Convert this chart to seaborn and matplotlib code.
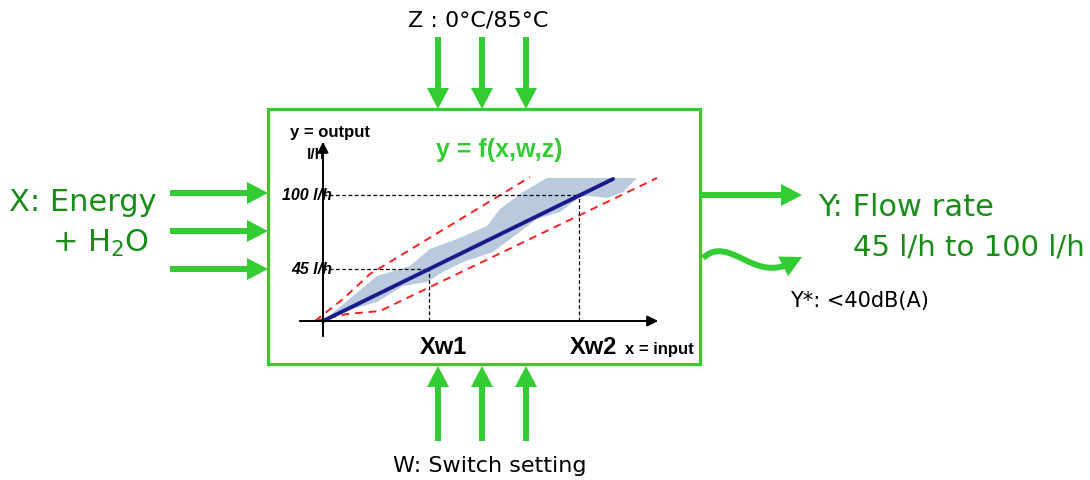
import numpy as np
import matplotlib
matplotlib.use("Agg")
import matplotlib.pyplot as plt
import seaborn as sns
from matplotlib.patches import Rectangle

# =========================================================
# DATA (schematic values, inner chart in its own units)
# =========================================================
line_x = [0, 290]
line_y = [0, 142]

band_upper_x = [0, 54, 87, 107, 134, 164, 177, 200, 224, 314]
band_upper_y = [0, 45, 55, 72, 82, 95, 112, 129, 143, 143]
band_lower_x = [314, 300, 284, 267, 257, 237, 214, 170, 140, 120, 104, 80, 54, 30, 0]
band_lower_y = [143, 129, 123, 125, 124, 109, 102, 69, 59, 49, 39, 35, 19, 12, 0]

red_upper_x = [-8, 20, 47, 207]
red_upper_y = [0, 22, 47, 144]
red_lower_x = [-8, 24, 57, 334]
red_lower_y = [0, 7, 10, 143]

xw_pos = [106, 256]
xw_labels = ["Xw1", "Xw2"]
yw_pos = [52, 126]
yw_labels = ["45 l/h", "100 l/h"]

GREEN = "#33cc33"
DARK_GREEN = "#1a8c1a"

# =========================================================
# FIGURE
# =========================================================
sns.set_theme(style="white")
plt.rcParams["font.family"] = ["DejaVu Sans"]
plt.rcParams["mathtext.default"] = "regular"
plt.rcParams["text.color"] = "black"

fig = plt.figure(figsize=(10.9, 4.81), dpi=100)
ax = fig.add_axes([0, 0, 1, 1])
ax.set_xlim(0, 1090)
ax.set_ylim(481, 0)
ax.axis("off")

# box
ax.add_patch(Rectangle((268, 110), 432, 255, fill=False, edgecolor=GREEN, lw=2.3))

arrow_kw = dict(width=6, head_width=22, head_length=21,
                length_includes_head=True, color=GREEN, lw=0)

# top arrows (Z)
for x in [438, 482, 526]:
    ax.arrow(x, 38, 0, 72, **arrow_kw)
# bottom arrows (W)
for x in [438, 482, 526]:
    ax.arrow(x, 442, 0, -75, **arrow_kw)
# left arrows (X)
for y in [194, 232, 270]:
    ax.arrow(170, y, 98, 0, **arrow_kw)
# right arrow (Y)
ax.arrow(702, 196, 100, 0, **arrow_kw)

# wavy arrow (Y*): cubic bezier shaft + head
p0, p1, p2, p3 = map(np.array, [(703, 259), (728, 236), (752, 280), (786, 266)])
t = np.linspace(0, 1, 60)[:, None]
curve = (1 - t) ** 3 * p0 + 3 * (1 - t) ** 2 * t * p1 + 3 * (1 - t) * t ** 2 * p2 + t ** 3 * p3
ax.plot(curve[:, 0], curve[:, 1], color=GREEN, lw=4.3, solid_capstyle="butt")
ax.arrow(782, 268, 20, -10, width=6, head_width=22, head_length=21,
         length_includes_head=True, color=GREEN, lw=0)

# texts
ax.text(478, 20, "Z : 0°C/85°C", ha="center", va="center", fontsize=16)
ax.text(490, 466, "W: Switch setting", ha="center", va="center", fontsize=16)
ax.text(157, 203, "X: Energy", ha="right", va="center", fontsize=22, color=DARK_GREEN)
ax.text(149, 243, "+ H$_2$O", ha="right", va="center", fontsize=22, color=DARK_GREEN)
ax.text(818, 208, "Y: Flow rate", ha="left", va="center", fontsize=22, color=DARK_GREEN)
ax.text(853, 247, "45 l/h to 100 l/h", ha="left", va="center", fontsize=21, color=DARK_GREEN)
ax.text(790, 301, "Y*: <40dB(A)", ha="left", va="center", fontsize=15)

# =========================================================
# INNER CHART y = f(x, w, z)
# =========================================================
ox, oy = 323, 322
ix0, ix1, iy0, iy1 = -30, 345, -25, 190
ax2 = fig.add_axes([(ox + ix0) / 1090, (481 - (oy - iy0)) / 481,
                    (ix1 - ix0) / 1090, (iy1 - iy0) / 481])
ax2.set_xlim(ix0, ix1)
ax2.set_ylim(iy0, iy1)
ax2.axis("off")
ax2.patch.set_alpha(0)

band_x = band_upper_x + band_lower_x
band_y = band_upper_y + band_lower_y
ax2.fill(band_x, band_y, color="#b9c9de", lw=0, zorder=1)

sns.lineplot(x=red_upper_x, y=red_upper_y, ax=ax2, color="#ff2020",
             lw=1.4, linestyle=(0, (4, 3)), zorder=2)
sns.lineplot(x=red_lower_x, y=red_lower_y, ax=ax2, color="#ff2020",
             lw=1.4, linestyle=(0, (4, 3)), zorder=2)
sns.lineplot(x=line_x, y=line_y, ax=ax2, color="#1a1a8c", lw=2.8, zorder=3)

for xv, yv in zip(xw_pos, yw_pos):
    ax2.plot([0, xv], [yv, yv], color="black", lw=0.9, linestyle=(0, (3, 2)), zorder=2)
    ax2.plot([xv, xv], [0, yv], color="black", lw=0.9, linestyle=(0, (3, 2)), zorder=2)

# axes with arrows
ax2.annotate("", xy=(338, 0), xytext=(-26, 0),
             arrowprops=dict(arrowstyle="-|>", color="black", lw=1.4, mutation_scale=16),
             annotation_clip=False)
ax2.annotate("", xy=(0, 182), xytext=(0, -18),
             arrowprops=dict(arrowstyle="-|>", color="black", lw=1.4, mutation_scale=16),
             annotation_clip=False)

lab_font = ["Liberation Sans", "DejaVu Sans"]
for yv, lab in zip(yw_pos, yw_labels):
    ax2.text(9, yv, lab, ha="right", va="center", fontsize=11.5, fontweight="bold",
             fontstyle="italic", family=lab_font, color="black", clip_on=False)
for xv, lab in zip(xw_pos, xw_labels):
    ax2.text(xv + 14, -26, lab, ha="center", va="center", fontsize=17, fontweight="bold",
             family=lab_font, color="black", clip_on=False)

ax2.text(302, -28, "x = input", ha="left", va="center", fontsize=12, fontweight="bold",
         family=lab_font, color="black", clip_on=False)
ax2.text(-33, 189, "y = output", ha="left", va="center", fontsize=12, fontweight="bold",
         family=lab_font, color="black", clip_on=False)
ax2.text(-16, 167, "l/h", ha="left", va="center", fontsize=11, fontweight="bold",
         family=lab_font, color="black", clip_on=False)
ax2.text(176, 172, "y = f(x,w,z)", ha="center", va="center", fontsize=18, fontweight="bold",
         color=GREEN, family=lab_font, clip_on=False)

fig.savefig("out.png", dpi=100)
plt.close()
